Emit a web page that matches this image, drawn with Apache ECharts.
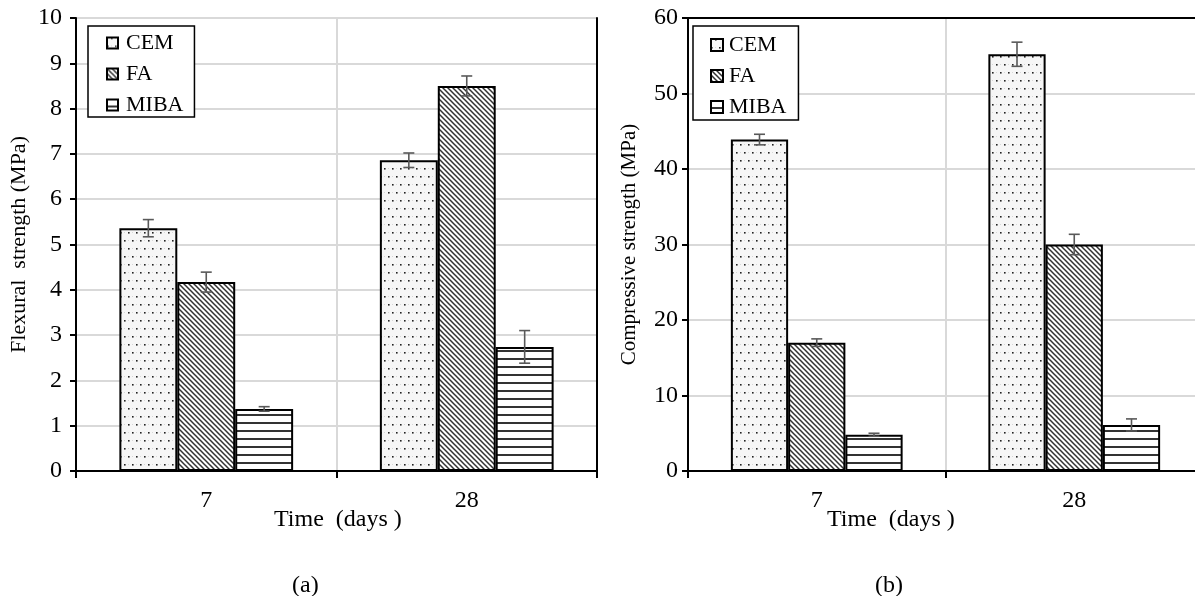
<!DOCTYPE html>
<html>
<head>
<meta charset="utf-8">
<script src="https://cdn.jsdelivr.net/npm/echarts@6/dist/echarts.min.js"></script>
<style>
  html, body { margin: 0; padding: 0; background: #fff; overflow: hidden; }
  #chart { width: 1215px; height: 596px; }
</style>
</head>
<body>
<div id="chart"></div>
<script>
// Curing ages
const categories = ['7', '28'];
const mixes = ['CEM', 'FA', 'MIBA'];

// Flexural strength (MPa): means and standard deviations
const flexCEM = [5.36, 6.86];
const flexFA = [4.17, 8.50];
const flexMIBA = [1.37, 2.74];
const flexCEMErr = [0.19, 0.16];
const flexFAErr = [0.22, 0.22];
const flexMIBAErr = [0.05, 0.36];

// Compressive strength (MPa): means and standard deviations
const compCEM = [43.9, 55.2];
const compFA = [17.0, 30.0];
const compMIBA = [4.8, 6.1];
const compCEMErr = [0.7, 1.6];
const compFAErr = [0.5, 1.35];
const compMIBAErr = [0.2, 0.8];

// Axis ranges
const flexTicks = { min: 0, max: 10, interval: 1 };
const compTicks = { min: 0, max: 60, interval: 10 };

const FONT = 'Liberation Serif';
const GAP = 0.333;

// --- fill patterns -------------------------------------------------------
function makeTile(w, h, draw) {
  const c = document.createElement('canvas');
  c.width = w; c.height = h;
  const ctx = c.getContext('2d');
  draw(ctx, w, h);
  return c;
}
const dotTile = makeTile(8, 16, (ctx, w, h) => {
  ctx.fillStyle = '#f6f6f6';
  ctx.fillRect(0, 0, w, h);
  ctx.fillStyle = '#d8d8d8';
  ctx.fillRect(0, 0, 1, 1);
  ctx.fillRect(4, 8, 1, 1);
  ctx.fillStyle = '#222';
  ctx.fillRect(4, 0, 1.6, 1.6);
  ctx.fillRect(0, 8, 1.6, 1.6);
});
const diagTile = makeTile(5, 5, (ctx, w, h) => {
  ctx.fillStyle = '#fff';
  ctx.fillRect(0, 0, w, h);
  ctx.strokeStyle = '#333';
  ctx.lineWidth = 1.5;
  ctx.beginPath();
  ctx.moveTo(-1, -1); ctx.lineTo(w + 1, h + 1);
  ctx.moveTo(-1, h - 1); ctx.lineTo(1, h + 1);
  ctx.moveTo(w - 1, -1); ctx.lineTo(w + 1, 1);
  ctx.stroke();
});
const hLineTile = makeTile(4, 8, (ctx, w, h) => {
  ctx.fillStyle = '#fff';
  ctx.fillRect(0, 0, w, h);
  ctx.fillStyle = '#333';
  ctx.fillRect(0, 6, w, 2);
});
const fills = {
  CEM: { image: dotTile, repeat: 'repeat' },
  FA: { image: diagTile, repeat: 'repeat' },
  MIBA: { image: hLineTile, repeat: 'repeat' }
};

// --- helpers -------------------------------------------------------------
function barSeries(name, values, gi) {
  return {
    name: name,
    type: 'bar',
    xAxisIndex: gi,
    yAxisIndex: gi,
    data: values,
    barGap: '0%',
    barCategoryGap: (GAP * 100) + '%',
    itemStyle: { color: fills[name], borderColor: '#000', borderWidth: 2 },
    emphasis: { disabled: true },
    z: 2
  };
}

function errorSeries(gi, groups) {
  const data = [];
  groups.forEach((g, si) => {
    g.values.forEach((v, ci) => data.push([ci, si, v, g.errs[ci]]));
  });
  return {
    type: 'custom',
    xAxisIndex: gi,
    yAxisIndex: gi,
    data: data,
    encode: { x: 0, y: 2 },
    z: 5,
    silent: true,
    renderItem: function (params, api) {
      const ci = api.value(0), si = api.value(1);
      const v = api.value(2), e = api.value(3);
      const band = api.size([1, 0])[0];
      const bw = band * (1 - GAP) / 3;
      const x = api.coord([ci, v])[0] + (si - 1) * bw;
      const yt = api.coord([ci, v + e])[1];
      const yb = api.coord([ci, v - e])[1];
      const cap = 5.5;
      const st = { stroke: '#595959', lineWidth: 1.6 };
      return {
        type: 'group',
        children: [
          { type: 'line', shape: { x1: x, y1: yt, x2: x, y2: yb }, style: st },
          { type: 'line', shape: { x1: x - cap, y1: yt, x2: x + cap, y2: yt }, style: st },
          { type: 'line', shape: { x1: x - cap, y1: yb, x2: x + cap, y2: yb }, style: st }
        ]
      };
    }
  };
}

const axisBlack = { lineStyle: { color: '#000', width: 2 } };
const gridGray = { show: true, lineStyle: { color: '#d9d9d9', width: 2 } };
const tickFont = { fontFamily: FONT, fontSize: 24, color: '#000' };

function bottomX(gi) {
  return {
    type: 'category', gridIndex: gi, data: categories, position: 'bottom',
    axisLine: axisBlack,
    axisTick: { show: true, alignWithLabel: false, length: 7, lineStyle: { color: '#000', width: 2 } },
    axisLabel: Object.assign({ margin: 18 }, tickFont),
    splitLine: gridGray
  };
}
function topX(gi) {
  return {
    type: 'category', gridIndex: gi, data: categories, position: 'top',
    axisLine: axisBlack, axisTick: { show: false }, axisLabel: { show: false },
    splitLine: { show: false }
  };
}
function leftY(gi, ticks, name, gap, margin, nameSize) {
  return {
    type: 'value', gridIndex: gi, min: ticks.min, max: ticks.max, interval: ticks.interval,
    axisLine: Object.assign({ show: true }, axisBlack),
    axisTick: { show: true, length: 6, lineStyle: { color: '#000', width: 2 } },
    axisLabel: Object.assign({ margin: margin }, tickFont),
    splitLine: gridGray,
    name: name, nameLocation: 'middle', nameGap: gap, nameRotate: 90,
    nameTextStyle: { fontFamily: FONT, fontSize: nameSize, color: '#000' }
  };
}

function legendBox(left, pad, iconSize, textPad) {
  return {
    data: mixes, orient: 'vertical', left: left, top: 26,
    padding: pad, itemGap: 9, itemWidth: iconSize, itemHeight: iconSize, icon: 'rect',
    borderColor: '#000', borderWidth: 1.5, backgroundColor: '#fff',
    textStyle: { fontFamily: FONT, fontSize: 22, color: '#000', lineHeight: 22, padding: [0, 0, 0, textPad] },
    selectedMode: false
  };
}

const titleFont = '24px "' + FONT + '"';

const option = {
  animation: false,
  backgroundColor: '#fff',
  grid: [
    { left: 76, top: 18, width: 521, height: 453 },
    { left: 688, top: 18, width: 515, height: 453 }
  ],
  xAxis: [bottomX(0), bottomX(1), topX(0), topX(1)],
  yAxis: [
    leftY(0, flexTicks, 'Flexural  strength (MPa)', 46, 14, 22),
    leftY(1, compTicks, 'Compressive strength (MPa)', 48, 10, 21),
    {
      type: 'value', gridIndex: 0, position: 'right', min: flexTicks.min, max: flexTicks.max,
      axisLine: Object.assign({ show: true }, axisBlack), axisTick: { show: false },
      axisLabel: { show: false }, splitLine: { show: false }
    }
  ],
  legend: [
    legendBox(88, [6, 11, 1, 18], 11, 3),
    legendBox(693, [8, 12, 2, 17], 12, 1)
  ],
  graphic: [
    { type: 'text', left: 274, top: 508, style: { text: 'Time  (days )', font: titleFont, fill: '#000' } },
    { type: 'text', left: 827, top: 508, style: { text: 'Time  (days )', font: titleFont, fill: '#000' } },
    { type: 'text', left: 292, top: 574, style: { text: '(a)', font: titleFont, fill: '#000' } },
    { type: 'text', left: 875, top: 574, style: { text: '(b)', font: titleFont, fill: '#000' } }
  ],
  series: [
    barSeries('CEM', flexCEM, 0),
    barSeries('FA', flexFA, 0),
    barSeries('MIBA', flexMIBA, 0),
    barSeries('CEM', compCEM, 1),
    barSeries('FA', compFA, 1),
    barSeries('MIBA', compMIBA, 1),
    errorSeries(0, [
      { values: flexCEM, errs: flexCEMErr },
      { values: flexFA, errs: flexFAErr },
      { values: flexMIBA, errs: flexMIBAErr }
    ]),
    errorSeries(1, [
      { values: compCEM, errs: compCEMErr },
      { values: compFA, errs: compFAErr },
      { values: compMIBA, errs: compMIBAErr }
    ])
  ]
};

const chart = echarts.init(document.getElementById('chart'), null, { renderer: 'canvas' });
chart.setOption(option);
</script>
</body>
</html>
